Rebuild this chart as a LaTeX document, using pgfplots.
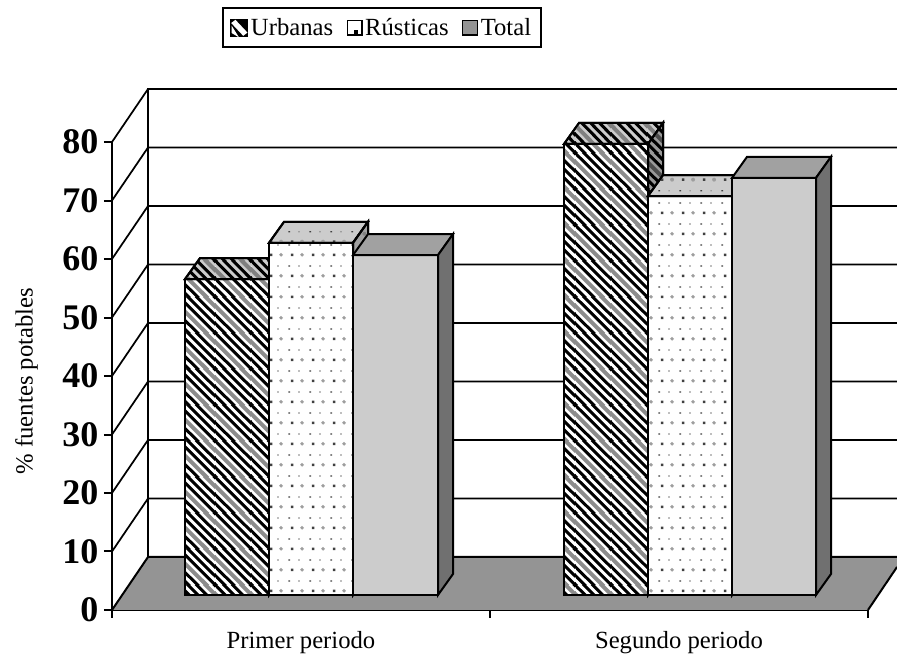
\documentclass[border=0pt]{standalone}
\usepackage{fontspec}
\setmainfont{Liberation Serif}
\usepackage{pgfplots}
\pgfplotsset{compat=1.18}
\usetikzlibrary{patterns}
\newcommand\stp[1]{\pgfpathmoveto{\pgfpointxy{-2}{#1+2}}\pgfpathlineto{\pgfpointxy{#1+2}{-2}}\pgfusepath{stroke}}
\newcommand\declstripe[3]{%
\pgfdeclarepatterninherentlycolored{#1}{\pgfpoint{0pt}{0pt}}{\pgfpoint{27pt}{27pt}}{\pgfpoint{27pt}{27pt}}{%
 \pgfsetxvec{\pgfpoint{1pt}{0pt}}\pgfsetyvec{\pgfpoint{0pt}{1pt}}%
 \pgfsetbuttcap
 \pgfsetcolor{#3}\pgfsetlinewidth{3pt}%
 \stp{20.25}\stp{47.25}%
 \pgfsetcolor{#2}\pgfsetlinewidth{2.3pt}%
 \stp{0}\stp{6.75}\stp{13.5}\stp{27}\stp{33.75}\stp{40.5}\stp{54}%
}}
\newcommand\decldots[3]{%
\pgfdeclarepatterninherentlycolored{#1}{\pgfpoint{0pt}{0pt}}{\pgfpoint{15.4pt}{15.4pt}}{\pgfpoint{15.4pt}{15.4pt}}{%
 \pgfsetcolor{#2}%
 \pgfpathrectangle{\pgfpoint{2.9pt}{3pt}}{\pgfpoint{1.9pt}{1.9pt}}\pgfusepath{fill}%
 \pgfpathrectangle{\pgfpoint{1pt}{11pt}}{\pgfpoint{1.3pt}{0.9pt}}\pgfusepath{fill}%
 \pgfsetcolor{#3}%
 \pgfpathrectangle{\pgfpoint{8.6pt}{11pt}}{\pgfpoint{1.3pt}{0.9pt}}\pgfusepath{fill}%
 \pgfpathcircle{\pgfpoint{11.5pt}{4pt}}{1.5pt}\pgfusepath{fill}%
}}
\definecolor{softA}{gray}{0.55}
\definecolor{softB}{gray}{0.5}
\definecolor{softC}{gray}{0.3}
\definecolor{topG}{gray}{0.8}
\definecolor{midG}{gray}{0.63}
\definecolor{sideG}{gray}{0.6}
\definecolor{floorG}{gray}{0.58}
\definecolor{sideT}{gray}{0.44}
\definecolor{dkdot}{gray}{0.25}
\definecolor{softdot}{gray}{0.62}
\declstripe{urbfront}{black}{softA}
\declstripe{urbtop}{black}{softB}
\declstripe{urbside}{black}{softC}
\decldots{rusfront}{dkdot}{softdot}
\decldots{russide}{dkdot}{softB}
\newcommand\barthree[6]{%
 \pgfmathsetmacro\yb{2.564}%
 \pgfmathsetmacro\yf{2.564+#3}%
 \pgfmathsetmacro\yt{2.564+#3+3.59}%
 \pgfmathsetmacro\ybb{2.564+3.59}%
 \pgfmathsetmacro\xa{#1+15}%
 \pgfmathsetmacro\xb{#2+15}%
 \addplot[forget plot,barline,#4] coordinates {(#1,\yb) (#2,\yb) (#2,\yf) (#1,\yf)} --cycle;
 \addplot[forget plot,barline,#5] coordinates {(#1,\yf) (#2,\yf) (\xb,\yt) (\xa,\yt)} --cycle;
 \addplot[forget plot,barline,#6] coordinates {(#2,\yb) (\xb,\ybb) (\xb,\yt) (#2,\yf)} --cycle;
}
\begin{document}
\begin{tikzpicture}
\path[use as bounding box] (-84pt,-35.25pt) rectangle (588.75pt,457.5pt);
\begin{axis}[
 at={(0pt,0pt)},anchor=origin,
 scale only axis,width=567pt,height=351pt,
 xmin=112,xmax=868,ymin=0,ymax=80,
 clip=false,
 axis x line*=bottom,axis y line*=left,
 axis line style={-,line width=1.5pt,black},
 tick align=outside,
 major tick length=6pt,
 tick style={line width=1.5pt,black},
 xtick={112,490,868},xticklabels={},
 extra x ticks={301,679},
 extra x tick labels={Primer periodo,Segundo periodo},
 extra x tick style={major tick length=0pt,tick label style={yshift=-12.5pt}},
 ytick={0,10,...,80},
 yticklabel style={font=\fontsize{27}{27}\selectfont\bfseries,/pgf/number format/assume math mode=true,inner xsep=4pt},
 x tick label style={font=\fontsize{18.5}{18.5}\selectfont},
 ylabel={\% fuentes potables},
 ylabel style={at={(axis description cs:-0.113,0.489)},anchor=center,font=\fontsize{18.5}{18.5}\selectfont},
 barline/.style={draw=black,line width=1.5pt,line join=miter},
 urbF/.style={pattern=urbfront,preaction={fill=white}},
 urbT/.style={pattern=urbtop,preaction={fill=topG}},
 urbS/.style={pattern=urbside,preaction={fill=sideG}},
 rusF/.style={pattern=rusfront,preaction={fill=white}},
 rusT/.style={pattern=rusfront,preaction={fill=topG}},
 rusS/.style={pattern=russide,preaction={fill=midG}},
 legend style={at={(axis description cs:0.1455,1.288)},anchor=north west,draw=black,line width=1.5pt,
  font=\fontsize{18.5}{18.5}\selectfont,inner xsep=5.5pt,inner ysep=5.5pt,
  /tikz/every even column/.append style={column sep=8pt}},
 legend columns=3,
]
% floor
\addplot[forget plot,fill=floorG,draw=none] coordinates {(112,0) (868,0) (897,7.35) (897,9.06) (148,9.06)} --cycle;
\addplot[forget plot,black,line width=1.5pt] coordinates {(868,0) (897,7.35)};
\addplot[forget plot,black,line width=1.5pt] coordinates {(112,0) (148,9.06) (897,9.06)};
% back wall
\addplot[forget plot,black,line width=1.5pt] coordinates {(148,9.06) (148,89.06) (897,89.06)};
\addplot[forget plot,black,line width=1.3pt] coordinates {(112,10) (148,19.06) (897,19.06)};
\addplot[forget plot,black,line width=1.3pt] coordinates {(112,20) (148,29.06) (897,29.06)};
\addplot[forget plot,black,line width=1.3pt] coordinates {(112,30) (148,39.06) (897,39.06)};
\addplot[forget plot,black,line width=1.3pt] coordinates {(112,40) (148,49.06) (897,49.06)};
\addplot[forget plot,black,line width=1.3pt] coordinates {(112,50) (148,59.06) (897,59.06)};
\addplot[forget plot,black,line width=1.3pt] coordinates {(112,60) (148,69.06) (897,69.06)};
\addplot[forget plot,black,line width=1.3pt] coordinates {(112,70) (148,79.06) (897,79.06)};
\addplot[forget plot,black,line width=1.3pt] coordinates {(112,80) (148,89.06)};
% bars: Primer periodo
\barthree{185}{269}{54}{urbF}{urbT}{urbS}
\barthree{269}{353}{60.2}{rusF}{rusT}{rusS}
\barthree{353}{438}{58.1}{fill=topG}{fill=midG}{fill=sideT}
% bars: Segundo periodo
\barthree{564}{648}{77.1}{urbF}{urbT}{urbS}
\barthree{648}{732}{68.2}{rusF}{rusT}{rusS}
\barthree{732}{816}{71.3}{fill=topG}{fill=midG}{fill=sideT}
% legend
\addlegendimage{legend image code/.code={
 \fill[black] (-1pt,-6pt) rectangle (11pt,6pt);
 \fill[white] (0pt,3.5pt) -- (2pt,5pt) -- (10pt,-3.5pt) -- (8pt,-5pt) -- cycle;
 \fill[white] (0pt,-1pt) -- (0pt,-3.5pt) -- (2.5pt,-5pt) -- cycle;
}}
\addlegendentry{Urbanas}
\addlegendimage{legend image code/.code={
 \draw[black,line width=1pt,fill=white] (0.5pt,-5.5pt) rectangle (11.5pt,5.5pt);
 \fill[black] (6.5pt,-4pt) rectangle (8pt,-2.5pt);
}}
\addlegendentry{Rústicas}
\addlegendimage{legend image code/.code={
 \draw[black,line width=1pt,fill=floorG] (0.5pt,-5.5pt) rectangle (11.5pt,5.5pt);
}}
\addlegendentry{Total\hspace{2.5pt}}
\end{axis}
\end{tikzpicture}
\end{document}
